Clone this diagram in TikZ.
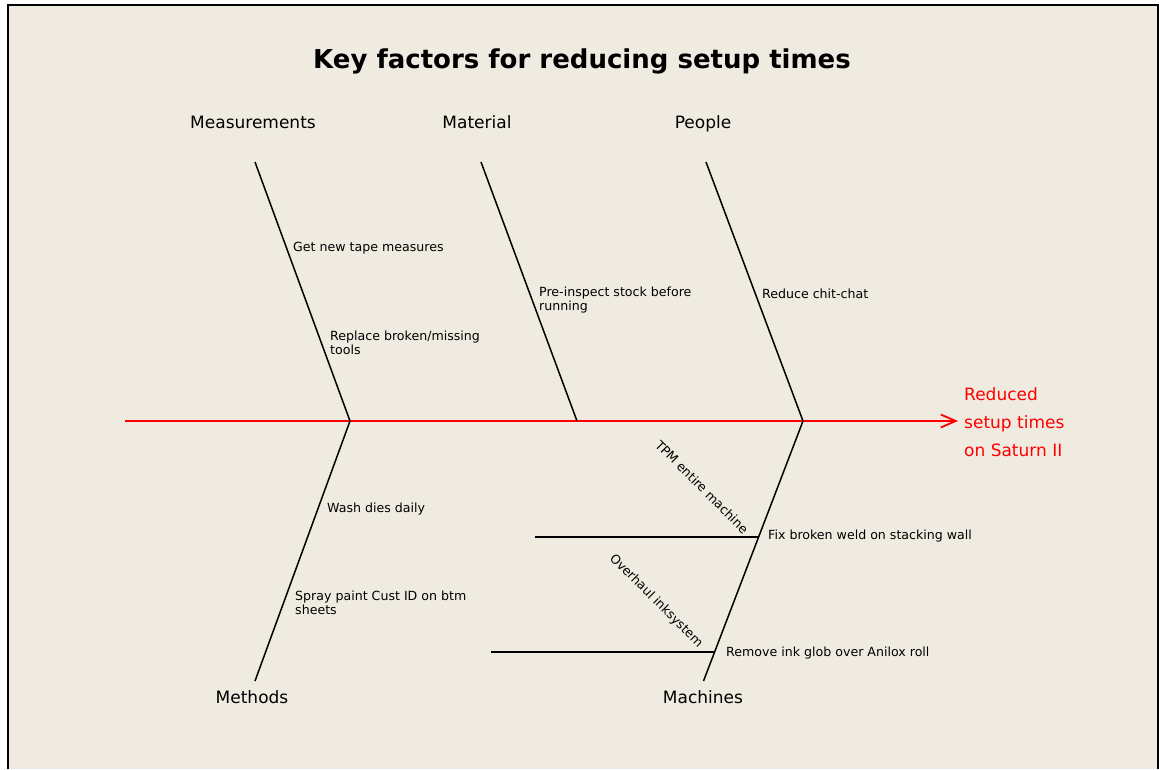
\documentclass[tikz,border=0pt]{standalone}
\usepackage{fontspec}
\setmainfont{DejaVu Sans}
\usetikzlibrary{arrows.meta}
\definecolor{bg}{HTML}{EFEBE1}
\definecolor{spinered}{HTML}{FF0000}
\tikzset{
  bone/.style={line width=1.5pt, black},
  cat/.style={inner sep=0pt, anchor=base, font=\fontsize{17}{20}\selectfont},
  cause/.style={inner sep=0pt, anchor=west, align=left, font=\fontsize{12.6}{14}\selectfont},
  rcause/.style={inner sep=0pt, rotate=-45, font=\fontsize{12.6}{14}\selectfont},
}
\begin{document}
\begin{tikzpicture}[x=1pt,y=-1pt]
\useasboundingbox (0,0) rectangle (1159,769);
\fill[white] (0,0) rectangle (1159,769);
\fill[bg] (8,5) rectangle (1158,769);
\draw[line width=2pt] (8,769) -- (8,5) -- (1158,5) -- (1158,769);

\node[inner sep=0pt, font=\fontsize{26}{30}\selectfont\bfseries] (title) at (582,61) {Key factors for reducing setup times};

% spine
\coordinate (tail) at (125,421);
\coordinate (j1) at (350,421);
\coordinate (j2) at (577,421);
\coordinate (j3) at (803,421);
\node[inner sep=0pt, anchor=west, align=left, text=spinered, font=\fontsize{17}{28}\selectfont] (effect) at (964,422) {Reduced\\setup times\\on Saturn II};
\coordinate (head) at (958,421);
\draw[spinered, line width=1.5pt, -{Straight Barb[length=15pt,width=13pt,line width=1.8pt]}] (tail) -- (head);

% upper bones
\coordinate (t1) at (255,162);
\coordinate (t2) at (481,162);
\coordinate (t3) at (706,162);
\draw[bone] (t1) -- (j1);
\draw[bone] (t2) -- (j2);
\draw[bone] (t3) -- (j3);
% lower bones
\coordinate (b1) at (255,681);
\coordinate (b3) at (703.5,681);
\draw[bone] (j1) -- (b1);
\draw[bone] (j3) -- (b3);

% sub-bones on Machines
\coordinate (s1) at (758.6,537);
\coordinate (s1e) at (535,537);
\coordinate (s2) at (714.6,652);
\coordinate (s2e) at (491,652);
\draw[bone] (s1e) -- (s1);
\draw[bone] (s2e) -- (s2);

% category labels
\node[cat] (meas) at (253,128) {Measurements};
\node[cat] (mat) at (477,128) {Material};
\node[cat] (peo) at (703,128) {People};
\node[cat] (meth) at (252,703) {Methods};
\node[cat] (mach) at (703,703) {Machines};

% causes
\node[cause] (c1) at (293,248.5) {Get new tape measures};
\node[cause] (c2) at (330,343) {Replace broken/missing\\tools};
\node[cause] (c3) at (539,300.5) {Pre-inspect stock before\\running};
\node[cause] (c4) at (762,293.5) {Reduce chit-chat};
\node[cause] (c5) at (327,509.5) {Wash dies daily};
\node[cause] (c6) at (295,602.5) {Spray paint Cust ID on btm\\sheets};
\node[cause] (c7) at (768,536.5) {Fix broken weld on stacking wall};
\node[cause] (c8) at (726,653.5) {Remove ink glob over Anilox roll};
\node[rcause] (r1) at (702,487) {TPM entire machine};
\node[rcause] (r2) at (656,601) {Overhaul inksystem};
\end{tikzpicture}
\end{document}
